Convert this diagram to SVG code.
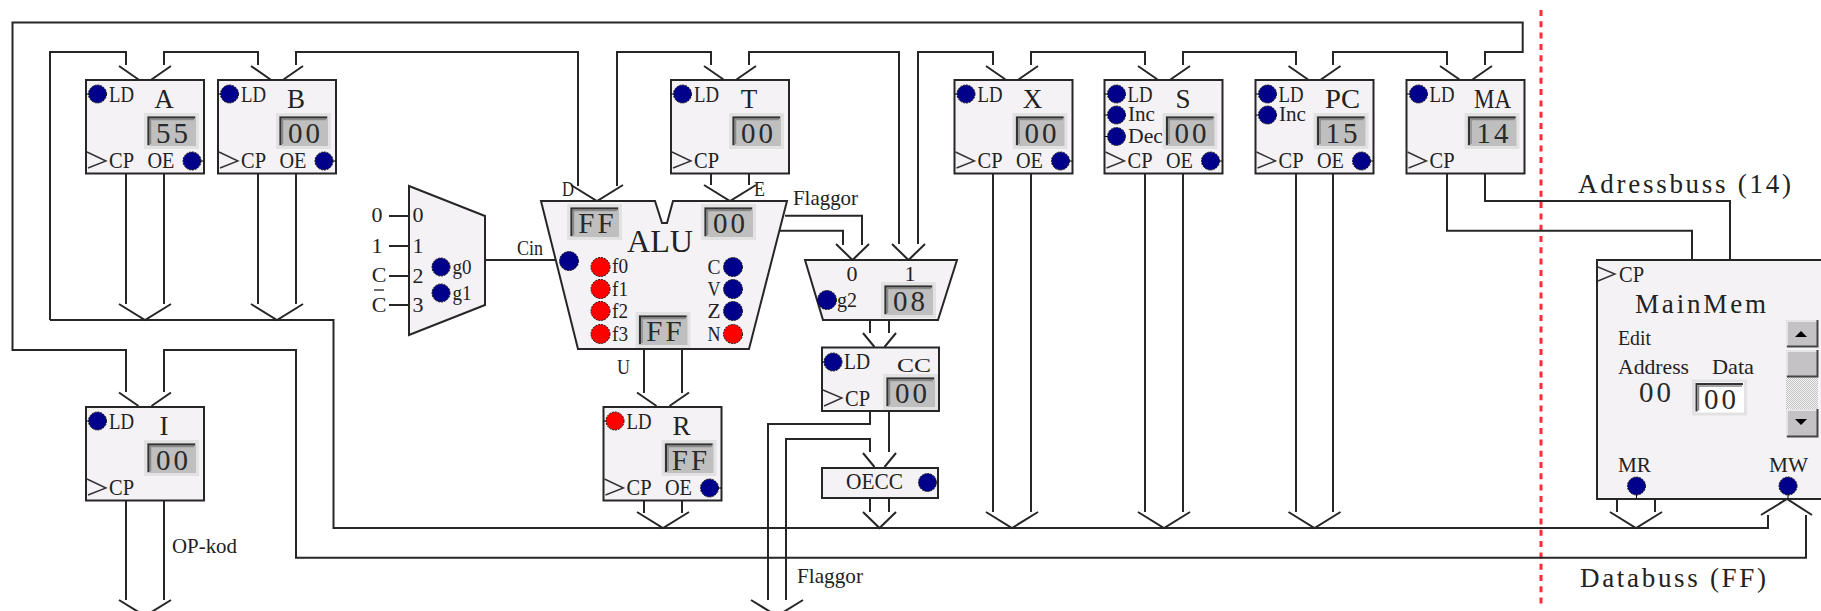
<svg xmlns="http://www.w3.org/2000/svg" width="1821" height="611" viewBox="0 0 1821 611">
<style>
.w{fill:none;stroke:#262626;stroke-width:2}
.b{fill:#f5f2f6;stroke:#262626;stroke-width:2}
.c{fill:none;stroke:#333;stroke-width:1.4}
.s{fill:#000;stroke:#000;stroke-width:1}
text{font-family:"Liberation Serif",serif;fill:#222}
.l{font-size:23px}
.n{font-size:27px;text-anchor:middle}
.m{font-size:22px}
.i{font-size:20px}
.d{font-size:29px;text-anchor:middle;fill:#2a2a2a;letter-spacing:3px;transform:translateX(1.5px)}
.q{font-size:22px;text-anchor:middle}
.blue{fill:#00008b;stroke:#111;stroke-width:1;stroke-dasharray:2 1}
.red{fill:#f00;stroke:#111;stroke-width:1;stroke-dasharray:2 1}
.btn{fill:#c4c2c4}
.hi{fill:none;stroke:#efefef;stroke-width:1.5}
.lo{fill:none;stroke:#444;stroke-width:2}
</style>
<defs>
<g id="lcd"><rect x="0" y="0" width="55" height="36" fill="#e2e2e2"/><rect x="3" y="3" width="49" height="30" fill="#bfbfbf"/><path d="M4.5,32V4.5H51" fill="none" stroke="#333" stroke-width="2"/><path d="M6.5,31V6.5H50" fill="none" stroke="#8a8a8a" stroke-width="1.5"/></g>
<g id="lcdw"><rect x="0" y="0" width="55" height="36" fill="#e2e2e2"/><rect x="3" y="3" width="49" height="30" fill="#fff"/><path d="M4.5,32V4.5H51" fill="none" stroke="#333" stroke-width="2"/><path d="M6.5,31V6.5H50" fill="none" stroke="#8a8a8a" stroke-width="1.5"/></g>
<path id="ai" class="w" d="M-26,-15.5L-6.5,-2M26,-15.5L6.5,-2"/>
<path id="ab" class="w" d="M-26,-16L0,0L26,-16"/>
<path id="ni" class="w" d="M-16.5,-15L-5,-1M16.5,-15L5,-1"/>
<path id="nb" class="w" d="M-16.5,-16L0,0L16.5,-16"/>
<path id="clk" class="c" d="M1,72L20,81L2,88"/>
<pattern id="dots" width="2" height="2" patternUnits="userSpaceOnUse"><rect width="2" height="2" fill="#f2f2f2"/><rect width="1" height="1" fill="#c4c4c4"/><rect x="1" y="1" width="1" height="1" fill="#c4c4c4"/></pattern>
</defs>

<line x1="1541" y1="10" x2="1541" y2="608" stroke="#ff2a3a" stroke-width="3" stroke-dasharray="6 5.3"/>

<g id="connectors">
<path class="w" d="M126,392V350H12.5V22.5H1522.7V52H1485V65"/>
<path class="w" d="M50,320V52H126V65M164,65V52H258V65M296,65V52H578V186M617,186V52H711V65M749,65V52H899V244M918,244V52H993V65M1031,65V52H1145V65M1183,65V52H1296V65M1333,65V52H1447V65"/>
<path class="w" d="M50,320H333.5V528H1768V515"/>
<path class="w" d="M164,392V350H296V557.7H1806V515"/>
<path class="w" d="M126,173V304M164,173V304M258,173V304M296,173V304"/>
<path class="w" d="M126,500V600M164,500V600"/>
<path class="w" d="M711,173V185M749,173V185M644,349V393M682,349V393M644,500V513M682,500V513"/>
<path class="w" d="M993,173V512M1031,173V512M1145,173V512M1183,173V512M1296,173V512M1333,173V512"/>
<path class="w" d="M1617,499V512M1655,499V512"/>
<path class="w" d="M1447,173V230.7H1692V260M1485,173V201H1730V260"/>
<path class="w" d="M785,215.7H862V245M780,230.7H843V245"/>
<path class="w" d="M870,320V333M889,320V333"/>
<path class="w" d="M870,411V424H768V600M889,411V452M870,452V439H786V600"/>
<path class="w" d="M870,498V512M889,498V512"/>
<path class="w" d="M389,216H409M389,246H409M389,276H409M389,305H409M485,260H555"/>
<use href="#ai" x="145" y="81.5"/><use href="#ai" x="277" y="81.5"/><use href="#ai" x="730" y="81.5"/>
<use href="#ai" x="1012" y="81.5"/><use href="#ai" x="1164" y="81.5"/><use href="#ai" x="1314.5" y="81.5"/><use href="#ai" x="1466" y="81.5"/>
<use href="#ai" x="145" y="408"/><use href="#ai" x="663" y="408"/>
<use href="#ab" x="145" y="320"/><use href="#ab" x="277" y="320"/>
<use href="#ab" x="597" y="201"/><use href="#ab" x="730" y="201"/>
<use href="#ab" x="663" y="528"/><use href="#ab" x="1012" y="528"/><use href="#ab" x="1164" y="528"/><use href="#ab" x="1314.5" y="528"/><use href="#ab" x="1636" y="528"/>
<use href="#ab" x="145" y="616"/><use href="#ab" x="777" y="616"/>
<path class="w" d="M1761,515L1787,499L1812,515"/>
<use href="#nb" x="852.5" y="260"/><use href="#nb" x="908.5" y="260"/>
<use href="#ni" x="879.5" y="348"/><use href="#ni" x="879.5" y="468"/>
<use href="#nb" x="879.5" y="528"/>
</g>

<g id="reg-A" transform="translate(86,80)"><rect class="b" width="118" height="93.5"/><path class="s" d="M0,14H4M118,81H114"/><circle class="blue" cx="11.5" cy="14" r="9"/><text class="l" x="23" y="22" textLength="25" lengthAdjust="spacingAndGlyphs">LD</text><text class="n" x="78" y="28">A</text><use href="#lcd" x="58" y="33"/><text class="d" x="86" y="62.5">55</text><use href="#clk"/><text class="l" x="23" y="88" textLength="25" lengthAdjust="spacingAndGlyphs">CP</text><text class="l" x="61.5" y="88" textLength="27" lengthAdjust="spacingAndGlyphs">OE</text><circle class="blue" cx="106" cy="81" r="9"/></g>
<g id="reg-B" transform="translate(218,80)"><rect class="b" width="118" height="93.5"/><path class="s" d="M0,14H4M118,81H114"/><circle class="blue" cx="11.5" cy="14" r="9"/><text class="l" x="23" y="22" textLength="25" lengthAdjust="spacingAndGlyphs">LD</text><text class="n" x="78" y="28">B</text><use href="#lcd" x="58" y="33"/><text class="d" x="86" y="62.5">00</text><use href="#clk"/><text class="l" x="23" y="88" textLength="25" lengthAdjust="spacingAndGlyphs">CP</text><text class="l" x="61.5" y="88" textLength="27" lengthAdjust="spacingAndGlyphs">OE</text><circle class="blue" cx="106" cy="81" r="9"/></g>
<g id="reg-T" transform="translate(671,80)"><rect class="b" width="118" height="93.5"/><path class="s" d="M0,14H4"/><circle class="blue" cx="11.5" cy="14" r="9"/><text class="l" x="23" y="22" textLength="25" lengthAdjust="spacingAndGlyphs">LD</text><text class="n" x="78" y="28">T</text><use href="#lcd" x="58" y="33"/><text class="d" x="86" y="62.5">00</text><use href="#clk"/><text class="l" x="23" y="88" textLength="25" lengthAdjust="spacingAndGlyphs">CP</text></g>
<g id="reg-X" transform="translate(954.5,80)"><rect class="b" width="118" height="93.5"/><path class="s" d="M0,14H4M118,81H114"/><circle class="blue" cx="11.5" cy="14" r="9"/><text class="l" x="23" y="22" textLength="25" lengthAdjust="spacingAndGlyphs">LD</text><text class="n" x="78" y="28">X</text><use href="#lcd" x="58" y="33"/><text class="d" x="86" y="62.5">00</text><use href="#clk"/><text class="l" x="23" y="88" textLength="25" lengthAdjust="spacingAndGlyphs">CP</text><text class="l" x="61.5" y="88" textLength="27" lengthAdjust="spacingAndGlyphs">OE</text><circle class="blue" cx="106" cy="81" r="9"/></g>
<g id="reg-S" transform="translate(1104.5,80)"><rect class="b" width="118" height="93.5"/><path class="s" d="M0,14H4M0,35H4M0,56.5H4M118,81H114"/><circle class="blue" cx="12" cy="14" r="9"/><circle class="blue" cx="12" cy="35" r="9"/><circle class="blue" cx="12" cy="56.5" r="9"/><text class="l" x="23" y="22" textLength="25" lengthAdjust="spacingAndGlyphs">LD</text><text class="i" x="23.5" y="41" textLength="27" lengthAdjust="spacingAndGlyphs">Inc</text><text class="i" x="23.5" y="63" textLength="35" lengthAdjust="spacingAndGlyphs">Dec</text><text class="n" x="78.5" y="28">S</text><use href="#lcd" x="58" y="33"/><text class="d" x="86" y="62.5">00</text><use href="#clk"/><text class="l" x="23" y="88" textLength="25" lengthAdjust="spacingAndGlyphs">CP</text><text class="l" x="61.5" y="88" textLength="27" lengthAdjust="spacingAndGlyphs">OE</text><circle class="blue" cx="106" cy="81" r="9"/></g>
<g id="reg-PC" transform="translate(1255.5,80)"><rect class="b" width="118" height="93.5"/><path class="s" d="M0,14H4M0,35H4M118,81H114"/><circle class="blue" cx="12" cy="14" r="9"/><circle class="blue" cx="12" cy="35" r="9"/><text class="l" x="23" y="22" textLength="25" lengthAdjust="spacingAndGlyphs">LD</text><text class="i" x="23.5" y="41" textLength="27" lengthAdjust="spacingAndGlyphs">Inc</text><text class="n" x="87" y="28" textLength="35" lengthAdjust="spacingAndGlyphs">PC</text><use href="#lcd" x="58" y="33"/><text class="d" x="86" y="62.5">15</text><use href="#clk"/><text class="l" x="23" y="88" textLength="25" lengthAdjust="spacingAndGlyphs">CP</text><text class="l" x="61.5" y="88" textLength="27" lengthAdjust="spacingAndGlyphs">OE</text><circle class="blue" cx="106" cy="81" r="9"/></g>
<g id="reg-MA" transform="translate(1406.5,80)"><rect class="b" width="118" height="93.5"/><path class="s" d="M0,14H4"/><circle class="blue" cx="12" cy="14" r="9"/><text class="l" x="23" y="22" textLength="25" lengthAdjust="spacingAndGlyphs">LD</text><text class="n" x="86" y="28" textLength="37" lengthAdjust="spacingAndGlyphs">MA</text><use href="#lcd" x="58" y="33"/><text class="d" x="86" y="62.5">14</text><use href="#clk"/><text class="l" x="23" y="88" textLength="25" lengthAdjust="spacingAndGlyphs">CP</text></g>
<g id="reg-I" transform="translate(86,407)"><rect class="b" width="118" height="93.5"/><path class="s" d="M0,14H4"/><circle class="blue" cx="11.5" cy="14" r="9"/><text class="l" x="23" y="22" textLength="25" lengthAdjust="spacingAndGlyphs">LD</text><text class="n" x="78" y="28">I</text><use href="#lcd" x="58" y="33"/><text class="d" x="86" y="62.5">00</text><use href="#clk"/><text class="l" x="23" y="88" textLength="25" lengthAdjust="spacingAndGlyphs">CP</text></g>
<g id="reg-R" transform="translate(603.5,407)"><rect class="b" width="118" height="93.5"/><path class="s" d="M0,14H4M118,81H114"/><circle class="red" cx="11.5" cy="14" r="9"/><text class="l" x="23" y="22" textLength="25" lengthAdjust="spacingAndGlyphs">LD</text><text class="n" x="78" y="28">R</text><use href="#lcd" x="58" y="33"/><text class="d" x="86" y="62.5">FF</text><use href="#clk"/><text class="l" x="23" y="88" textLength="25" lengthAdjust="spacingAndGlyphs">CP</text><text class="l" x="61.5" y="88" textLength="27" lengthAdjust="spacingAndGlyphs">OE</text><circle class="blue" cx="106" cy="81" r="9"/></g>

<g id="mux-Cin">
<path class="b" d="M409,186L485,216V305L409,335Z"/>
<text class="q" x="377" y="222">0</text><text class="q" x="377" y="253">1</text><text class="q" x="379" y="282">C</text><text class="q" x="379" y="312">C</text><path class="c" d="M374,290H384"/>
<text class="q" x="418" y="222">0</text><text class="q" x="418" y="253">1</text><text class="q" x="418" y="283">2</text><text class="q" x="418" y="312">3</text>
<circle class="blue" cx="441" cy="267" r="9"/><circle class="blue" cx="441" cy="293" r="9"/>
<text class="q" x="462" y="274" textLength="19" lengthAdjust="spacingAndGlyphs">g0</text><text class="q" x="462" y="300" textLength="19" lengthAdjust="spacingAndGlyphs">g1</text>
</g>
<text id="lbl-cin" class="m" x="517" y="255" textLength="26" lengthAdjust="spacingAndGlyphs">Cin</text>

<g id="alu">
<path class="b" d="M541,201H655L662,223H667L673,201H787L749,349H578Z"/>
<use href="#lcd" x="567" y="204"/><text class="d" x="596" y="233">FF</text>
<use href="#lcd" x="701" y="204"/><text class="d" x="729" y="233">00</text>
<use href="#lcd" x="635.5" y="312"/><text class="d" x="664" y="341">FF</text>
<text x="627" y="252" font-size="31" textLength="66" lengthAdjust="spacingAndGlyphs">ALU</text>
<circle class="blue" cx="569" cy="261" r="9.5"/>
<circle class="red" cx="600.5" cy="267" r="9.5"/><circle class="red" cx="600.5" cy="289" r="9.5"/><circle class="red" cx="600.5" cy="311" r="9.5"/><circle class="red" cx="600.5" cy="334" r="9.5"/>
<text class="m" x="612" y="273" textLength="16" lengthAdjust="spacingAndGlyphs">f0</text><text class="m" x="612" y="296" textLength="16" lengthAdjust="spacingAndGlyphs">f1</text><text class="m" x="612" y="318" textLength="16" lengthAdjust="spacingAndGlyphs">f2</text><text class="m" x="612" y="341" textLength="16" lengthAdjust="spacingAndGlyphs">f3</text>
<circle class="blue" cx="733" cy="267" r="9.5"/><circle class="blue" cx="733" cy="289" r="9.5"/><circle class="blue" cx="733" cy="311" r="9.5"/><circle class="red" cx="733" cy="334" r="9.5"/>
<text class="q" x="714" y="274" textLength="13" lengthAdjust="spacingAndGlyphs">C</text><text class="q" x="714" y="296" textLength="13" lengthAdjust="spacingAndGlyphs">V</text><text class="q" x="714" y="318" textLength="13" lengthAdjust="spacingAndGlyphs">Z</text><text class="q" x="714" y="341" textLength="13" lengthAdjust="spacingAndGlyphs">N</text>
</g>
<text class="m" x="562" y="196" textLength="12" lengthAdjust="spacingAndGlyphs">D</text><text class="m" x="754" y="196" textLength="11" lengthAdjust="spacingAndGlyphs">E</text><text class="m" x="617" y="374" textLength="13" lengthAdjust="spacingAndGlyphs">U</text>
<text class="m" x="793" y="205" textLength="65" lengthAdjust="spacingAndGlyphs">Flaggor</text>

<g id="mux-flags">
<path class="b" d="M805,260H957L938,320H823Z"/>
<text class="q" x="852" y="281">0</text><text class="q" x="910" y="281">1</text>
<circle class="blue" cx="827" cy="300" r="9.5"/><text class="q" x="847" y="307" textLength="20" lengthAdjust="spacingAndGlyphs">g2</text>
<use href="#lcd" x="881" y="282"/><text class="d" x="909" y="311">08</text>
</g>

<g id="reg-CC">
<rect class="b" x="822" y="347.5" width="117" height="63.5"/>
<path class="s" d="M822,362H826"/><circle class="blue" cx="833" cy="362" r="9"/>
<text class="l" x="844" y="369" textLength="26" lengthAdjust="spacingAndGlyphs">LD</text>
<text x="897" y="372" font-size="19" textLength="34" lengthAdjust="spacingAndGlyphs">CC</text>
<use href="#lcd" x="883" y="374"/><text class="d" x="911" y="403">00</text>
<path class="c" d="M823,390L842,398L824,406"/>
<text class="l" x="845" y="406" textLength="25" lengthAdjust="spacingAndGlyphs">CP</text>
</g>
<g id="oecc">
<rect class="b" x="822" y="468" width="116" height="30"/>
<text class="l" x="846" y="489" textLength="57" lengthAdjust="spacingAndGlyphs">OECC</text>
<circle class="blue" cx="927.5" cy="482.5" r="9"/>
</g>

<g id="mainmem">
<path class="b" d="M1823,260H1597V499H1823"/>
<path class="c" d="M1598,267L1615,274L1598,281"/>
<text class="l" x="1619" y="282" textLength="25" lengthAdjust="spacingAndGlyphs">CP</text>
<text x="1635" y="313" font-size="27" textLength="131">MainMem</text>
<text class="m" x="1618" y="345" textLength="33" lengthAdjust="spacingAndGlyphs">Edit</text>
<text class="m" x="1618" y="374" textLength="71" lengthAdjust="spacingAndGlyphs">Address</text>
<text class="m" x="1712" y="374" textLength="42" lengthAdjust="spacingAndGlyphs">Data</text>
<text class="d" x="1655" y="402">00</text>
<use href="#lcdw" x="1692" y="379.5"/><text class="d" x="1720" y="408.5">00</text>
<rect x="1786" y="377" width="32" height="32" fill="url(#dots)"/>
<rect class="btn" x="1786" y="320" width="32" height="27"/><path class="hi" d="M1787,346V321H1817"/><path class="lo" d="M1787,346.5H1817.5V320"/>
<rect class="btn" x="1786" y="350" width="32" height="27"/><path class="hi" d="M1787,376V351H1817"/><path class="lo" d="M1787,376.5H1817.5V350"/>
<rect class="btn" x="1786" y="409" width="32" height="28"/><path class="hi" d="M1787,436V410H1817"/><path class="lo" d="M1787,436.5H1817.5V409"/>
<path d="M1795,337H1807L1801,331Z" fill="#000"/><path d="M1795,419H1807L1801,425Z" fill="#000"/>
<text class="m" x="1618" y="472" textLength="33" lengthAdjust="spacingAndGlyphs">MR</text>
<text class="m" x="1769" y="472" textLength="39" lengthAdjust="spacingAndGlyphs">MW</text>
<path class="s" d="M1636.5,493V499M1788,493V499"/>
<circle class="blue" cx="1636.5" cy="486" r="9"/><circle class="blue" cx="1788" cy="486" r="9"/>
</g>

<text class="m" x="172" y="553" textLength="65" lengthAdjust="spacingAndGlyphs">OP-kod</text>
<text class="m" x="797" y="583" textLength="66" lengthAdjust="spacingAndGlyphs">Flaggor</text>
<text x="1578" y="193" font-size="27" textLength="213">Adressbuss (14)</text>
<text x="1580" y="587" font-size="27" textLength="186">Databuss (FF)</text>
</svg>
